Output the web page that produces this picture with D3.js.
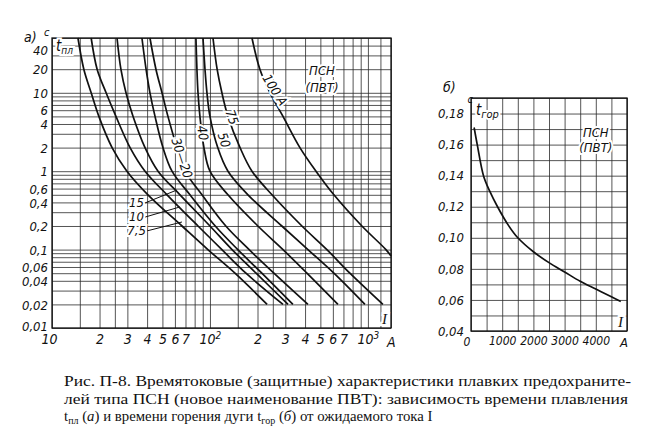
<!DOCTYPE html>
<html>
<head>
<meta charset="utf-8">
<script src="https://cdn.jsdelivr.net/npm/d3@7"></script>
<style>
  body { margin: 0; background: #fff; }
  svg text { font-family: "DejaVu Sans Condensed", "Liberation Sans Narrow", "DejaVu Sans", sans-serif; font-style: italic; fill: #111; }
  .grid line { stroke: #2a2a2a; stroke-width: 0.8; }
  .curve { fill: none; stroke: #111; stroke-width: 1.7; }
</style>
</head>
<body>
<svg id="chart" width="659" height="436"></svg>
<script>
// --- а) melting time: currents (A) at these times (s)
const meltTimes = [50, 20, 10, 5, 2, 1, 0.5, 0.2, 0.1, 0.05, 0.02];
const melt7_5 = [14.6, 15.9, 17.7, 19.8, 24, 29.8, 40.5, 66.5, 97, 144, 230];
const melt10 = [17.7, 19.3, 22, 25.4, 31.2, 38.8, 53.5, 84, 119, 169, 290];
const melt15 = [25.8, 27.3, 29.4, 32.6, 38.8, 46.9, 64.6, 100, 138, 196, 312];
const melt20 = [37.1, 39.4, 41.7, 44.9, 50.4, 57.5, 74.7, 108, 150, 213, 335];
const melt30 = [41.7, 45.5, 49.7, 54.2, 61.8, 69.5, 89, 126, 177, 254, 417];
const melt40 = [81.5, 82.7, 84, 86.4, 91.6, 100, 130, 201, 290, 411, 646];
const melt50 = [90.3, 93, 95.7, 100, 112, 130, 174, 285, 417, 609, 957];
const melt75 = [104.5, 111, 119, 130, 155, 184.5, 247, 382, 550, 769, 1244];
const melt100 = [184.5, 207, 240, 290, 371, 469, 609, 916, 1300]; // first 9 times
const melt100End = [1400, 0.083]; // leaves the grid at the right edge

// tick labels and grid of а)
const meltTimeTicks = [40, 20, 10, 6, 4, 2, 1, 0.6, 0.4, 0.2, 0.1, 0.06, 0.04, 0.02, 0.01];
const currentTicks = [10, 20, 30, 40, 50, 60, 70, 100, 200, 300, 400, 500, 600, 700, 1000];
const currentGrid = [10, 15, 20, 25, 30, 40, 50, 60, 70, 80, 90, 100, 150, 200, 250, 300,
                     400, 500, 600, 700, 800, 900, 1000, 1200, 1400];
const timeGrid = [0.01, 0.1, 1].flatMap(d => [1, 2, 3, 4, 5, 6, 7, 8, 9].map(k => +(k * d).toPrecision(2)))
                  .concat([10, 20, 30, 40, 50]);

// --- б) arc time
const arcCurrent = [100, 200, 400, 600, 850, 1200, 1500, 2000, 2500, 3000, 3500, 4000, 4500, 4800];
const arcTime = [0.171, 0.16, 0.14, 0.13, 0.12, 0.108, 0.10, 0.091, 0.084, 0.078, 0.072, 0.067, 0.062, 0.059];
const arcTimeTicks = [0.04, 0.06, 0.08, 0.10, 0.12, 0.14, 0.16, 0.18];
const arcCurrentTicks = [1000, 2000, 3000, 4000];

const caption = [
  "Рис. П-8. Времятоковые (защитные) характеристики плавких предохраните-",
  "лей типа ПСН (новое наименование ПВТ): зависимость времени плавления"
];

const svg = d3.select("#chart");
const comma = d => String(d).replace(".", ",");
const halo = s => s.attr("stroke", "#fff").attr("stroke-width", 4).attr("paint-order", "stroke");
const serif = "'Liberation Serif', 'Times New Roman', serif";

// ======== а) ========
const xL = d3.scaleLog().domain([10, 1400]).range([52, 391]);
const yL = d3.scaleLog().domain([0.01, 50]).range([328, 38]);
const [l0, l1] = xL.range(), [b0, t0] = yL.range();

const gL = svg.append("g");

gL.append("g").attr("class", "grid")
  .attr("transform", `translate(0,${b0})`)
  .call(d3.axisBottom(xL).tickValues(currentGrid).tickSize(-(b0 - t0)).tickFormat(""))
  .call(g => g.select(".domain").remove());

gL.append("g").attr("class", "grid")
  .attr("transform", `translate(${l0},0)`)
  .call(d3.axisLeft(yL).tickValues(timeGrid).tickSize(-(l1 - l0)).tickFormat(""))
  .call(g => g.select(".domain").remove());

gL.append("rect").attr("x", l0).attr("y", t0).attr("width", l1 - l0).attr("height", b0 - t0)
  .attr("fill", "none").attr("stroke", "#111").attr("stroke-width", 1.3);

const yAxisL = gL.append("g").attr("transform", `translate(${l0},0)`)
  .call(d3.axisLeft(yL).tickValues(meltTimeTicks).tickSize(0).tickPadding(4).tickFormat(comma));
yAxisL.select(".domain").remove();
yAxisL.selectAll("text").attr("font-size", 13).attr("font-family", null).attr("dy", "0.36em");
yAxisL.selectAll("text").filter(d => d === 40).attr("dy", "0.7em");
yAxisL.selectAll("text").filter(d => d === 0.01).attr("dy", "0.2em");

const xAxisL = gL.append("g").attr("transform", `translate(0,${b0})`)
  .call(d3.axisBottom(xL).tickValues(currentTicks).tickSize(0).tickPadding(6)
    .tickFormat(d => d === 10 ? "10" : String(d)[0]));
xAxisL.select(".domain").remove();
xAxisL.selectAll("text").attr("font-size", 14).attr("font-family", null)
  .each(function (d) {
    if (d === 100 || d === 1000) {
      const t = d3.select(this).text("10");
      t.append("tspan").attr("dy", "-0.45em").attr("font-size", 10).text(d === 100 ? "2" : "3");
    }
  });
xAxisL.selectAll("text").filter(d => d === 10).attr("dx", -3);

gL.append("text").attr("x", l1 - 4).attr("y", b0 + 19).attr("font-size", 14).text("A");

// curves
const lineL = d3.line().x(d => xL(d[0])).y(d => yL(d[1])).curve(d3.curveCatmullRom.alpha(0.5));
const meltCurves = [melt7_5, melt10, melt15, melt20, melt30, melt40, melt50, melt75]
  .map(c => c.map((I, i) => [I, meltTimes[i]]));
meltCurves.push(melt100.map((I, i) => [I, meltTimes[i]]).concat([melt100End]));

gL.append("g").selectAll("path").data(meltCurves).join("path")
  .attr("class", "curve").attr("d", lineL);

// labels written along the curves (white halo cuts the grid like on the drawing)
const inline = [
  { text: "100 A", I: 258, t: 10.9, rot: 58 },
  { text: "75", I: 138, t: 4.9, rot: 70 },
  { text: "50", I: 123, t: 2.5, rot: 72 },
  { text: "40", I: 90, t: 3.07, rot: 80 },
  { text: "30—20", I: 66.5, t: 1.47, rot: 72 }
];
gL.append("g").selectAll("text").data(inline).join("text")
  .attr("font-size", 13).attr("text-anchor", "middle").attr("dy", "0.35em")
  .attr("transform", d => `translate(${xL(d.I)},${yL(d.t)}) rotate(${d.rot})`)
  .text(d => d.text).call(halo);

// leader labels of the three small fuses
const leaders = [
  { text: "15", from: [38.8, 0.393], to: [61.8, 0.576] },
  { text: "10", from: [38.8, 0.26], to: [64.6, 0.35] },
  { text: "7,5", from: [39.9, 0.173], to: [66.5, 0.225] }
];
const lg = gL.append("g");
lg.selectAll("line").data(leaders).join("line")
  .attr("x1", d => xL(d.from[0])).attr("y1", d => yL(d.from[1]))
  .attr("x2", d => xL(d.to[0])).attr("y2", d => yL(d.to[1]))
  .attr("stroke", "#111").attr("stroke-width", 1);
lg.selectAll("text").data(leaders).join("text")
  .attr("x", d => xL(d.from[0]) - 1).attr("y", d => yL(d.from[1]) + 4)
  .attr("text-anchor", "end").attr("font-size", 13).text(d => d.text).call(halo);

gL.append("text").attr("x", xL(512)).attr("y", yL(16.9)).attr("text-anchor", "middle")
  .attr("font-size", 13).text("ПСН").call(halo);
gL.append("text").attr("x", xL(512)).attr("y", yL(10.2)).attr("text-anchor", "middle")
  .attr("font-size", 13).text("(ПВТ)").call(halo);

const tpl = gL.append("text").attr("x", l0 + 4).attr("y", t0 + 13).attr("font-size", 15).call(halo);
tpl.append("tspan").text("t");
tpl.append("tspan").attr("font-size", 10).attr("dy", 3).text("пл");

gL.append("text").attr("x", l1 - 9).attr("y", b0 - 4).attr("font-size", 15)
  .style("font-family", serif).text("I").call(halo);
gL.append("text").attr("x", 24).attr("y", t0 + 4).attr("font-size", 14).text("а)");
gL.append("text").attr("x", l0 - 8).attr("y", t0 - 2).attr("font-size", 11).text("c");

// ======== б) ========
const xR = d3.scaleLinear().domain([0, 5000]).range([471, 627]);
const yR = d3.scaleLinear().domain([0.04, 0.19]).range([331, 98]);
const [r0, r1] = xR.range(), [rb, rt] = yR.range();
const gR = svg.append("g");

gR.append("g").attr("class", "grid").attr("transform", `translate(0,${rb})`)
  .call(d3.axisBottom(xR).tickValues(d3.range(0, 5001, 500)).tickSize(-(rb - rt)).tickFormat(""))
  .call(g => g.select(".domain").remove());
gR.append("g").attr("class", "grid").attr("transform", `translate(${r0},0)`)
  .call(d3.axisLeft(yR).tickValues(d3.range(4, 20).map(k => k / 100)).tickSize(-(r1 - r0)).tickFormat(""))
  .call(g => g.select(".domain").remove());
gR.append("rect").attr("x", r0).attr("y", rt).attr("width", r1 - r0).attr("height", rb - rt)
  .attr("fill", "none").attr("stroke", "#111").attr("stroke-width", 1.3);

const yAxisR = gR.append("g").attr("transform", `translate(${r0},0)`)
  .call(d3.axisLeft(yR).tickValues(arcTimeTicks).tickSize(0).tickPadding(7)
    .tickFormat(d => d3.format(".2f")(d).replace(".", ",")));
yAxisR.select(".domain").remove();
yAxisR.selectAll("text").attr("font-size", 13).attr("font-family", null);

const xAxisR = gR.append("g").attr("transform", `translate(0,${rb})`)
  .call(d3.axisBottom(xR).tickValues(arcCurrentTicks).tickSize(0).tickPadding(5).tickFormat(d3.format("d")));
xAxisR.select(".domain").remove();
xAxisR.selectAll("text").attr("font-size", 12).attr("font-family", null);
gR.append("text").attr("x", r0 - 4).attr("y", rb + 15).attr("text-anchor", "middle").attr("font-size", 12).text("0");
gR.append("text").attr("x", r1 - 7).attr("y", rb + 16).attr("font-size", 13).text("A");

const lineR = d3.line().x(d => xR(d[0])).y(d => yR(d[1])).curve(d3.curveCatmullRom.alpha(0.5));
gR.append("path").attr("class", "curve")
  .attr("d", lineR(arcCurrent.map((I, i) => [I, arcTime[i]])));

const tg = gR.append("text").attr("x", r0 + 5).attr("y", rt + 17).attr("font-size", 15).call(halo);
tg.append("tspan").text("t");
tg.append("tspan").attr("font-size", 11).attr("dy", 3).text("гор");
gR.append("text").attr("x", xR(4000)).attr("y", yR(0.165)).attr("text-anchor", "middle")
  .attr("font-size", 13).text("ПСН").call(halo);
gR.append("text").attr("x", xR(4000)).attr("y", yR(0.155)).attr("text-anchor", "middle")
  .attr("font-size", 13).text("(ПВТ)").call(halo);
gR.append("text").attr("x", r1 - 9).attr("y", rb - 4).attr("font-size", 15)
  .style("font-family", serif).text("I").call(halo);
gR.append("text").attr("x", r0 - 28).attr("y", rt - 6).attr("font-size", 14).text("б)");
gR.append("text").attr("x", r0 + 2).attr("y", rt + 5).attr("font-size", 11).attr("text-anchor", "end").text("c");

// ======== caption ========
const cap = svg.append("g");
cap.selectAll("text.line").data(caption).join("text")
  .attr("class", "line").attr("x", 64).attr("y", (d, i) => 386 + i * 17.5)
  .style("font-family", serif).style("font-style", "normal").attr("font-size", 15.3)
  .attr("textLength", (d, i) => i === 0 ? 567 : 564).attr("lengthAdjust", "spacingAndGlyphs")
  .text(d => d);
const c3 = cap.append("text").attr("x", 64).attr("y", 421)
  .style("font-family", serif).style("font-style", "normal").attr("font-size", 14.8);
c3.append("tspan").text("t");
c3.append("tspan").attr("font-size", 10).attr("dy", 3).text("пл");
c3.append("tspan").attr("dy", -3).text(" (");
c3.append("tspan").style("font-style", "italic").text("а");
c3.append("tspan").text(") и времени горения дуги t");
c3.append("tspan").attr("font-size", 10).attr("dy", 3).text("гор");
c3.append("tspan").attr("dy", -3).text(" (");
c3.append("tspan").style("font-style", "italic").text("б");
c3.append("tspan").text(") от ожидаемого тока I");
</script>
</body>
</html>
